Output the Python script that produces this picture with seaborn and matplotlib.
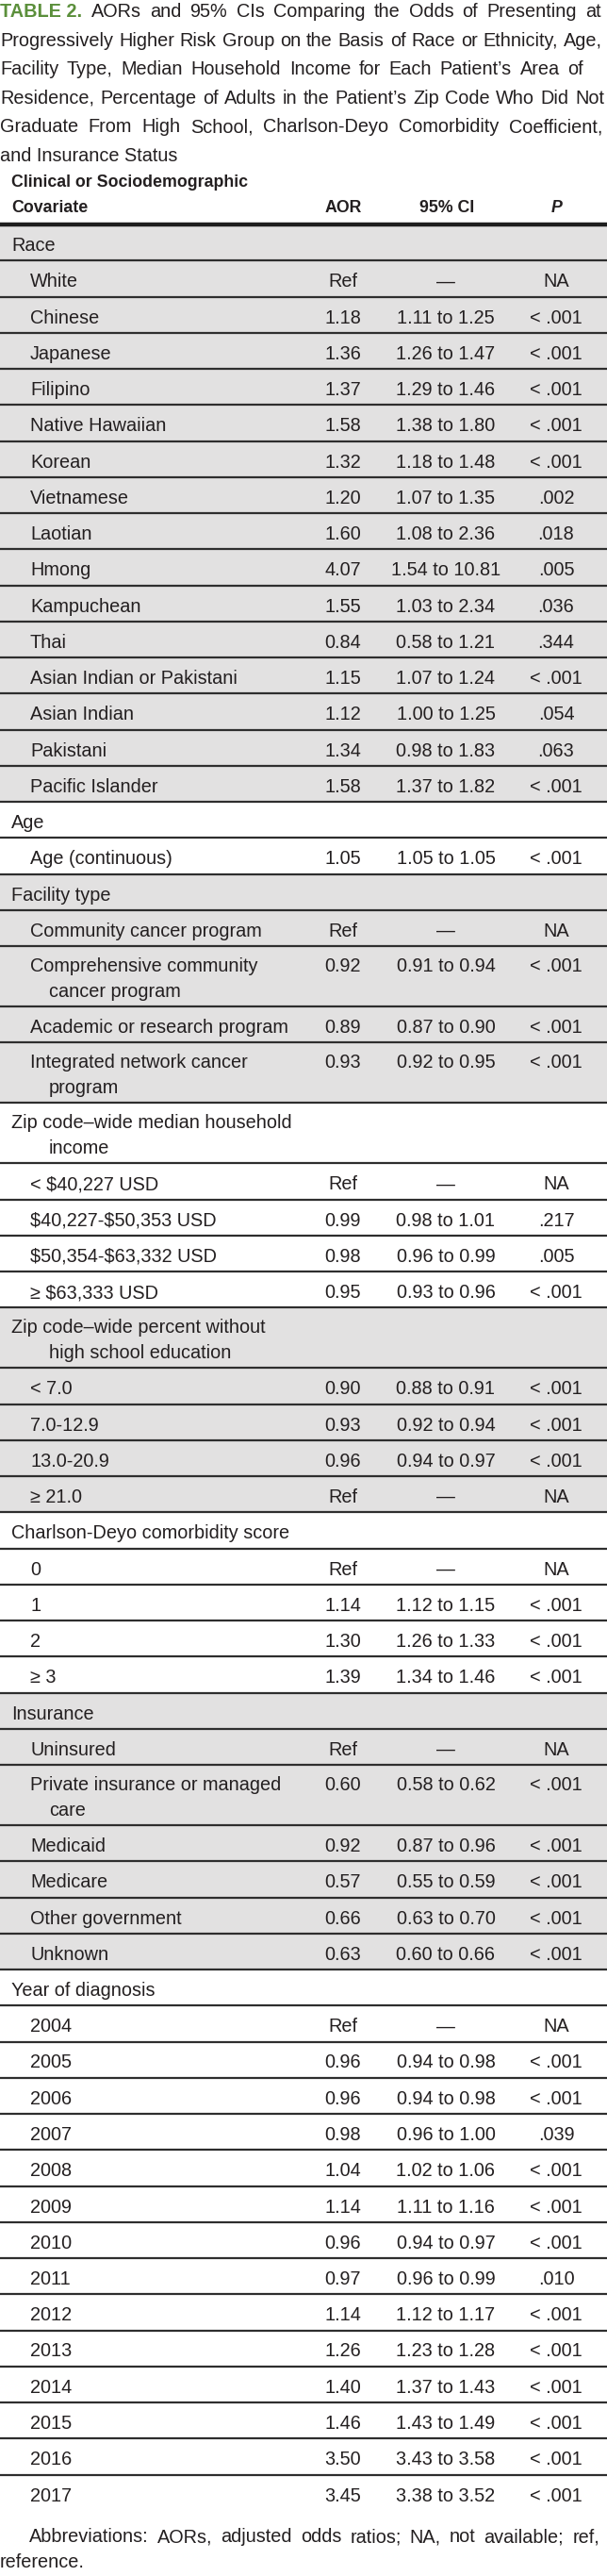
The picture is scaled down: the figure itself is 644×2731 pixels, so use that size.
import matplotlib
matplotlib.use("Agg")
import matplotlib.pyplot as plt
import seaborn as sns

# table content, row by row
sections = ["Race", "Age", "Facility type", "Zip code–wide median household\nincome",
            "Zip code–wide percent without\nhigh school education",
            "Charlson-Deyo comorbidity score", "Insurance", "Year of diagnosis"]

covariates = [
    "Race", "White", "Chinese", "Japanese", "Filipino", "Native Hawaiian", "Korean",
    "Vietnamese", "Laotian", "Hmong", "Kampuchean", "Thai", "Asian Indian or Pakistani",
    "Asian Indian", "Pakistani", "Pacific Islander",
    "Age", "Age (continuous)",
    "Facility type", "Community cancer program", "Comprehensive community\ncancer program",
    "Academic or research program", "Integrated network cancer\nprogram",
    "Zip code–wide median household\nincome", "< $40,227 USD", "$40,227-$50,353 USD",
    "$50,354-$63,332 USD", "≥ $63,333 USD",
    "Zip code–wide percent without\nhigh school education", "< 7.0", "7.0-12.9",
    "13.0-20.9", "≥ 21.0",
    "Charlson-Deyo comorbidity score", "0", "1", "2", "≥ 3",
    "Insurance", "Uninsured", "Private insurance or managed\ncare", "Medicaid", "Medicare",
    "Other government", "Unknown",
    "Year of diagnosis", "2004", "2005", "2006", "2007", "2008", "2009", "2010", "2011",
    "2012", "2013", "2014", "2015", "2016", "2017",
]

aor = [
    "", "Ref", "1.18", "1.36", "1.37", "1.58", "1.32", "1.20", "1.60", "4.07", "1.55",
    "0.84", "1.15", "1.12", "1.34", "1.58",
    "", "1.05",
    "", "Ref", "0.92", "0.89", "0.93",
    "", "Ref", "0.99", "0.98", "0.95",
    "", "0.90", "0.93", "0.96", "Ref",
    "", "Ref", "1.14", "1.30", "1.39",
    "", "Ref", "0.60", "0.92", "0.57", "0.66", "0.63",
    "", "Ref", "0.96", "0.96", "0.98", "1.04", "1.14", "0.96", "0.97", "1.14", "1.26",
    "1.40", "1.46", "3.50", "3.45",
]

ci95 = [
    "", "—", "1.11 to 1.25", "1.26 to 1.47", "1.29 to 1.46", "1.38 to 1.80",
    "1.18 to 1.48", "1.07 to 1.35", "1.08 to 2.36", "1.54 to 10.81", "1.03 to 2.34",
    "0.58 to 1.21", "1.07 to 1.24", "1.00 to 1.25", "0.98 to 1.83", "1.37 to 1.82",
    "", "1.05 to 1.05",
    "", "—", "0.91 to 0.94", "0.87 to 0.90", "0.92 to 0.95",
    "", "—", "0.98 to 1.01", "0.96 to 0.99", "0.93 to 0.96",
    "", "0.88 to 0.91", "0.92 to 0.94", "0.94 to 0.97", "—",
    "", "—", "1.12 to 1.15", "1.26 to 1.33", "1.34 to 1.46",
    "", "—", "0.58 to 0.62", "0.87 to 0.96", "0.55 to 0.59", "0.63 to 0.70", "0.60 to 0.66",
    "", "—", "0.94 to 0.98", "0.94 to 0.98", "0.96 to 1.00", "1.02 to 1.06",
    "1.11 to 1.16", "0.94 to 0.97", "0.96 to 0.99", "1.12 to 1.17", "1.23 to 1.28",
    "1.37 to 1.43", "1.43 to 1.49", "3.43 to 3.58", "3.38 to 3.52",
]

p_values = [
    "", "NA", "< .001", "< .001", "< .001", "< .001", "< .001", ".002", ".018", ".005",
    ".036", ".344", "< .001", ".054", ".063", "< .001",
    "", "< .001",
    "", "NA", "< .001", "< .001", "< .001",
    "", "NA", ".217", ".005", "< .001",
    "", "< .001", "< .001", "< .001", "NA",
    "", "NA", "< .001", "< .001", "< .001",
    "", "NA", "< .001", "< .001", "< .001", "< .001", "< .001",
    "", "NA", "< .001", "< .001", ".039", "< .001", "< .001", "< .001", ".010", "< .001",
    "< .001", "< .001", "< .001", "< .001", "< .001",
]

title_lines = [
    "AORs and 95% CIs Comparing the Odds of Presenting at",
    "Progressively Higher Risk Group on the Basis of Race or Ethnicity, Age,",
    "Facility Type, Median Household Income for Each Patient’s Area of",
    "Residence, Percentage of Adults in the Patient’s Zip Code Who Did Not",
    "Graduate From High School, Charlson-Deyo Comorbidity Coefficient,",
    "and Insurance Status",
]
footnote = ["Abbreviations: AORs, adjusted odds ratios; NA, not available; ref,", "reference."]

# style
sns.set_theme(style="white")
plt.rcParams["font.family"] = ["Liberation Sans", "DejaVu Sans"]
INK = "#231f20"
GRAY = "#e2e1e1"
GREEN = "#5b8f3b"
FS = 14.3

W, H = 644, 2731
fig = plt.figure(figsize=(W / 100, H / 100), dpi=100)
ax = fig.add_axes([0, 0, 1, 1])
ax.set_xlim(0, W)
ax.set_ylim(H, 0)
ax.axis("off")
renderer = fig.canvas.get_renderer()


def put(x, y, s, **kw):
    kw.setdefault("color", INK)
    kw.setdefault("fontsize", FS)
    return ax.text(x, y, s, va="baseline", parse_math=False, **kw)


def justify(tokens, y, x0, x1):
    # tokens: list of (word, kwargs); spread words over [x0, x1]
    texts = [put(0, y, w, **kw) for w, kw in tokens]
    widths = [t.get_window_extent(renderer).width for t in texts]
    gap = (x1 - x0 - sum(widths)) / max(len(texts) - 1, 1)
    x = x0
    for t, w in zip(texts, widths):
        t.set_x(x)
        x += w + gap


# title
bold_green = dict(color=GREEN, fontweight="bold")
title_right = [638, 639, 619, 641, 639]
for i, line in enumerate(title_lines):
    y = 18 + 30.5 * i
    toks = [(w, {}) for w in line.split()]
    if i == 0:
        toks = [("TABLE 2.", bold_green)] + toks
    if i < len(title_right):
        justify(toks, y, 0, title_right[i])
    else:
        put(0, y, line)

# column header
hdr = dict(fontweight="bold", fontsize=12.8)
put(12, 198, "Clinical or Sociodemographic", **hdr)
put(12, 225, "Covariate", **hdr)
put(364, 225, "AOR", ha="center", **hdr)
put(474, 225, "95% CI", ha="center", **hdr)
put(591, 225, "P", ha="center", fontstyle="italic", **hdr)

# body rows
top = 238.0
sec_idx = -1
n = len(covariates)
for i in range(n):
    label = covariates[i]
    is_sec = label in sections
    if is_sec:
        sec_idx += 1
    parts = label.split("\n")
    h = 38.25 if len(parts) == 1 else 64.0
    fill = GRAY if sec_idx % 2 == 0 else "white"
    ax.axhspan(top, top + h, color=fill, lw=0, zorder=0)
    base = top + (28 if len(parts) == 1 else 27)
    put(12 if is_sec else 32, base, parts[0])
    for k, extra in enumerate(parts[1:], start=1):
        put(52, base + 27 * k, extra)
    put(364, base, aor[i], ha="center")
    put(473, base, ci95[i], ha="center")
    put(590, base, p_values[i], ha="center")
    if i < n - 1:
        ax.axhline(top + h, color="#2e2e2e", lw=1.6, zorder=2)
    top += h

ax.axhline(238, color="#1e1e1e", lw=3.2, zorder=3)

# footnote
justify([(w, {}) for w in footnote[0].split()], 2695, 31, 636)
put(0, 2722, footnote[1])

fig.savefig("out.png", dpi=100)
